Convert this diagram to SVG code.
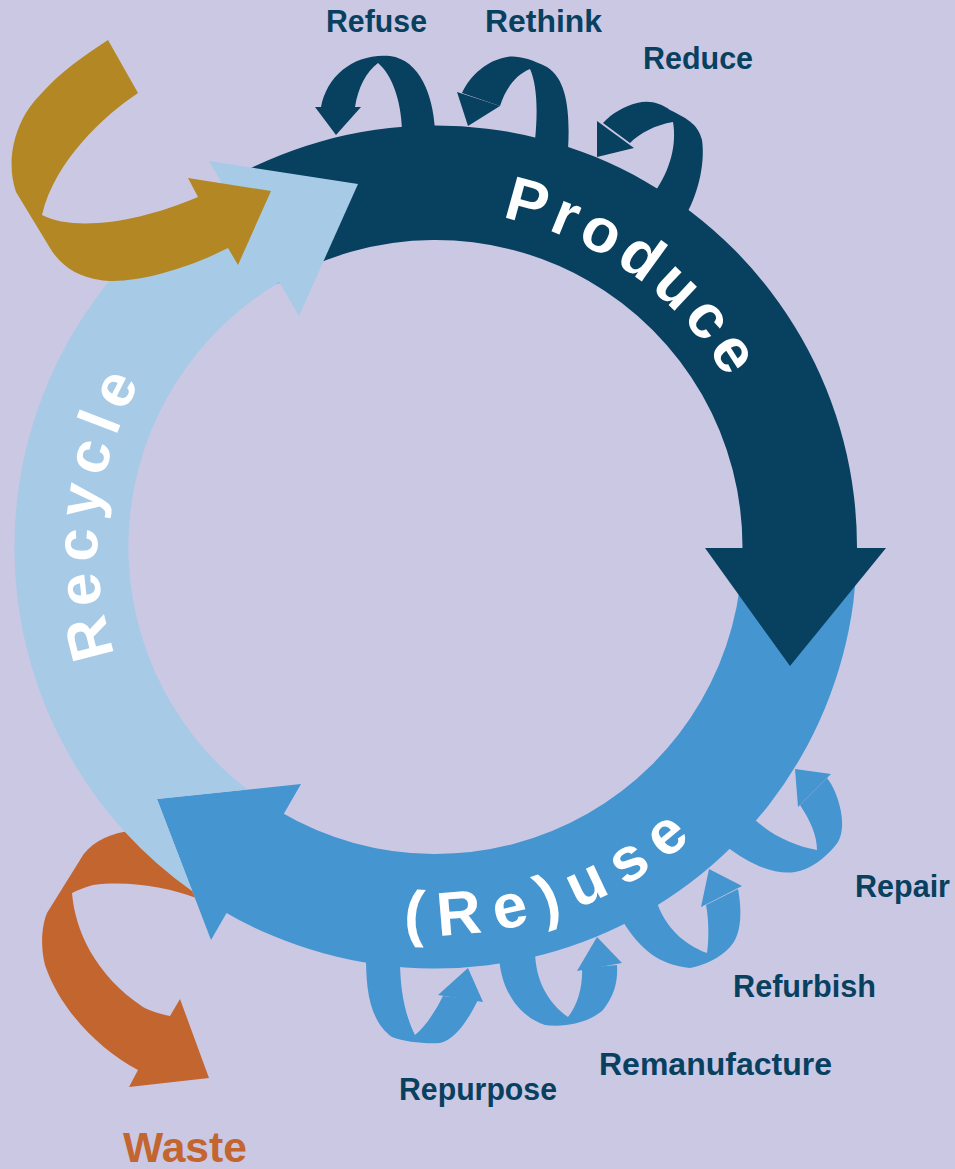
<svg xmlns="http://www.w3.org/2000/svg" width="955" height="1169" viewBox="0 0 955 1169">
<style>
.navy{fill:#08405f}
.mid{fill:#4595d1}
.light{fill:#a7cae6}
.gold{fill:#b38723}
.orange{fill:#c2652f}
.ring-text{font-family:"Liberation Sans",Arial,sans-serif;font-weight:bold;fill:#ffffff}
.label{font-family:"Liberation Sans",Arial,sans-serif;font-weight:bold;font-size:31px;fill:#08405f}
.waste{font-family:"Liberation Sans",Arial,sans-serif;font-weight:bold;font-size:43px;fill:#c2652f}
</style>
<defs>
<path id="pProduce" d="M501.9,217.6 A336,336 0 0 1 766.4,488.65"/>
<path id="pRecycle" d="M115.1,654.8 A338,338 0 0 1 319.9,229.4"/>
<path id="pReuse" d="M403.7,933.7 A388,388 0 0 0 771.5,741"/>
</defs>
<rect width="955" height="1169" fill="#cbc8e4"/>
<g id="ring">
<g id="reuse">
<path class="mid" d="M857,547 A421.5,421.5 0 0 1 221.6,910.2 L279.7,811.5 A307,307 0 0 0 742.5,547 Z"/>
<polygon class="mid" points="157,799 301,784 211,940"/>
<text class="ring-text" font-size="62" letter-spacing="14"><textPath href="#pReuse">(Re)use</textPath></text>
</g>
<g id="produce">
<path class="navy" d="M218.4,185.7 A421.5,421.5 0 0 1 856.97,552.15 L742.48,550.75 A307,307 0 0 0 277.4,283.8 Z"/>
<polygon class="navy" points="705,548 886,548 790,666"/>
<text class="ring-text" font-size="62" letter-spacing="6"><textPath href="#pProduce">Produce</textPath></text>
</g>
<g id="recycle">
<path class="light" d="M228.6,180.4 A421.5,421.5 0 0 0 192.3,891.3 L157,799 L247.4,789.6 A307,307 0 0 1 284.9,279.3 Z"/>
<polygon class="light" points="209,161 358,184 299,316"/>
<text class="ring-text" font-size="60" letter-spacing="9"><textPath href="#pRecycle">Recycle</textPath></text>
</g>
</g>
<g id="connectors">
<g id="loop-refuse" class="navy">
<path d="M435,130 C433,95 420,60 390,56 C355,53 327,75 321,107 L355,107 C358,88 366,72 378,63 C392,75 401,100 402,130 Z"/>
<polygon points="315,107 361,107 336,135"/>
</g>
<g id="loop-rethink" class="navy">
<path d="M568,150 C570,115 568,80 547,67 C530,58 515,55 507,57 C488,60 470,75 462,93 L500,106 C505,90 515,75 530,69 C537,85 538,110 535,140 Z"/>
<polygon points="457,92 500,106 468,126"/>
</g>
<g id="loop-reduce" class="navy">
<path d="M686,215 C700,190 705,160 702,140 C698,125 690,120 670,110 C660,103 650,100 637,103 C625,106 612,113 603,123 L630,143 C640,133 655,125 673,122 C677,145 670,170 655,192 Z"/>
<polygon points="597,121 634,148 597,157"/>
</g>
<g id="loop-repair" class="mid">
<path d="M726,846 C750,865 775,875 795,872 C810,870 825,858 835,846 C845,835 843,815 838,800 C835,790 831,783 827,778 L800,805 C810,820 817,835 817,850 C795,846 772,836 753,818 Z"/>
<polygon points="795,769 831,774 798,807"/>
</g>
<g id="loop-refurbish" class="mid">
<path d="M622,920 C640,950 660,965 690,968 C705,965 720,958 730,947 C742,935 742,910 738,889 L706,905 C709,920 709,940 707,953 C685,945 665,928 656,900 Z"/>
<polygon points="709,869 742,886 701,907"/>
</g>
<g id="loop-remanufacture" class="mid">
<path d="M499,955 C500,985 515,1015 545,1025 C565,1028 590,1022 603,1010 C615,995 618,980 617,965 L582,968 C583,985 578,1005 568,1017 C548,1003 535,980 535,950 Z"/>
<polygon points="597,937 622,963 577,971"/>
</g>
<g id="loop-repurpose" class="mid">
<path d="M366,955 C366,985 368,1020 392,1037 C405,1042 425,1044 440,1043 C455,1040 468,1020 478,1000 L443,996 C435,1012 425,1027 415,1035 C405,1015 400,990 400,960 Z"/>
<polygon points="468,968 483,1002 438,995"/>
</g>
<path id="arrow-input" class="gold" d="M108,40 L138,93 C105,115 55,160 42,215 C75,232 140,222 198,197 L188,178 L271,191 L238,265 L228,248 C185,270 130,285 100,280 C80,277 62,268 50,248 L16,192 C5,160 15,120 40,95 C60,72 85,55 108,40 Z"/>
<path id="arrow-waste" class="orange" d="M124.7,831.8 A421.5,421.5 0 0 0 192.3,891.3 L194.7,897.5 C170,888 130,880 93,885 C85,887 78,890 72,893 C75,930 95,975 143,1007 C150,1011 160,1014 170,1016 L180,999 L209,1078 L129,1087 L138,1070 C100,1050 60,1010 45,965 C40,945 42,925 47,913 L80,860 C88,845 105,835 124.7,831.8 Z"/>
</g>
<g id="labels">
<text class="label" x="326" y="32" textLength="101" lengthAdjust="spacingAndGlyphs">Refuse</text>
<text class="label" x="485" y="32" textLength="117" lengthAdjust="spacingAndGlyphs">Rethink</text>
<text class="label" x="643" y="69" textLength="110" lengthAdjust="spacingAndGlyphs">Reduce</text>
<text class="label" x="855" y="897" textLength="95" lengthAdjust="spacingAndGlyphs">Repair</text>
<text class="label" x="733" y="997" textLength="143" lengthAdjust="spacingAndGlyphs">Refurbish</text>
<text class="label" x="599" y="1075" textLength="233" lengthAdjust="spacingAndGlyphs">Remanufacture</text>
<text class="label" x="399" y="1100" textLength="158" lengthAdjust="spacingAndGlyphs">Repurpose</text>
<text class="waste" x="123" y="1162" textLength="124" lengthAdjust="spacingAndGlyphs">Waste</text>
</g>
</svg>
